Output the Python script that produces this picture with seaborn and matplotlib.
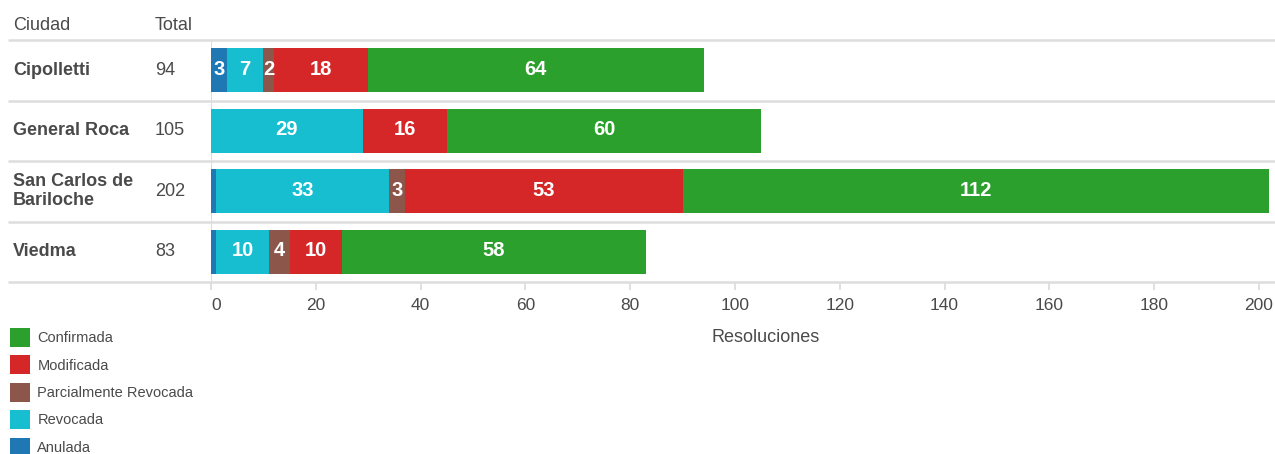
import matplotlib
matplotlib.use("Agg")
import matplotlib.pyplot as plt
import matplotlib.transforms as mtransforms
from matplotlib import font_manager
from matplotlib.patches import Patch
import numpy as np
import seaborn as sns

# Datos
ciudades = ["Cipolletti", "General Roca", "San Carlos de\nBariloche", "Viedma"]
anulada = [3, 0, 1, 1]
revocada = [7, 29, 33, 10]
parcial = [2, 0, 3, 4]
modificada = [18, 16, 53, 10]
confirmada = [64, 60, 112, 58]

categorias = ["Anulada", "Revocada", "Parcialmente Revocada", "Modificada", "Confirmada"]
colores = ["#1f77b4", "#17becf", "#8c564b", "#d62728", "#2ca02c"]
series = [anulada, revocada, parcial, modificada, confirmada]

sns.set_theme(style="white")
nombres = {f.name for f in font_manager.fontManager.ttflist}
fuente = "Liberation Sans" if "Liberation Sans" in nombres else "DejaVu Sans"
plt.rcParams["font.family"] = [fuente, "DejaVu Sans"]
gris_txt = "#4a4a4a"
gris_lin = "#dddddd"

W, H = 1275, 454
fig = plt.figure(figsize=(W / 100, H / 100), dpi=100)
x0, x1, ytop, ybot = 211, 1275, 40, 282
ax = fig.add_axes([x0 / W, 1 - ybot / H, (x1 - x0) / W, (ybot - ytop) / H])

# barras apiladas: se dibujan las sumas acumuladas de mayor a menor
acum = np.cumsum(np.array(series), axis=0)
pos = np.arange(len(ciudades))
for i in range(len(series) - 1, -1, -1):
    sns.barplot(x=acum[i], y=pos, orient="h", color=colores[i], saturation=1,
                width=0.73, edgecolor="none", linewidth=0, ax=ax, native_scale=True)

# etiquetas de valores
for i, s in enumerate(series):
    for j, v in enumerate(s):
        if v >= 2:
            centro = acum[i][j] - v / 2
            ax.text(centro, j - 0.02, str(v), ha="center", va="center", color="white",
                    fontsize=14.5, fontweight="bold")

ax.set_ylim(3.5, -0.5)
ax.set_xlim(0, (x1 - x0) / 5.24)
ax.set_yticks([])
ax.set_ylabel("")
ax.set_xticks(range(0, 201, 20))
ax.tick_params(axis="x", length=5.5, width=1.3, color=gris_lin, pad=6,
               labelsize=12.5, labelcolor=gris_txt, bottom=True)
ax.get_xticklabels()[0].set_ha("left")
for sp in ax.spines.values():
    sp.set_visible(False)
ax.axvline(0, color=gris_lin, lw=1.5, zorder=0)

# lineas separadoras de filas
trans = mtransforms.blended_transform_factory(ax.transAxes, ax.transData)
x_ini = (8 - x0) / (x1 - x0)
for yb in np.arange(-0.5, len(ciudades), 1.0):
    ax.plot([x_ini, 1], [yb, yb], transform=trans, color=gris_lin, lw=1.8,
            clip_on=False, zorder=0, solid_capstyle="butt")

# columnas de ciudad y total
trans_f = mtransforms.blended_transform_factory(fig.transFigure, ax.transData)
totales = acum[-1]
for j, c in enumerate(ciudades):
    ax.text(13 / W, j, c, transform=trans_f, ha="left", va="center", fontsize=13,
            fontweight="bold", color=gris_txt, linespacing=1.15)
    ax.text(155 / W, j, str(int(totales[j])), transform=trans_f, ha="left",
            va="center", fontsize=13, color=gris_txt)
fig.text(13 / W, 1 - 25 / H, "Ciudad", ha="left", va="center", fontsize=13, color=gris_txt)
fig.text(155 / W, 1 - 25 / H, "Total", ha="left", va="center", fontsize=13, color=gris_txt)

ax.set_xlabel("Resoluciones", fontsize=13, color=gris_txt)
ax.xaxis.label.set_va("center")
ax.xaxis.set_label_coords((766 - x0) / (x1 - x0), -(338 - ybot) / (ybot - ytop))

# leyenda
handles = [Patch(facecolor=colores[i], edgecolor="none") for i in range(len(categorias) - 1, -1, -1)]
etiquetas = categorias[::-1]
fig.legend(handles, etiquetas, loc="upper left", bbox_to_anchor=(10 / W, 1 - 328 / H),
           frameon=False, fontsize=10.5, handlelength=1.37, handleheight=1.62,
           labelspacing=0.58, handletextpad=0.5, borderaxespad=0, borderpad=0,
           labelcolor=gris_txt)

fig.savefig("out.png", dpi=100)
